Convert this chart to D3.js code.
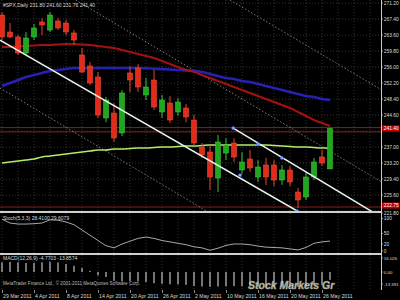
<!DOCTYPE html>
<html>
<head>
<meta charset="utf-8">
<script src="https://cdn.jsdelivr.net/npm/d3@7"></script>
<style>
  body { margin: 0; background: #000; }
  svg { display: block; font-family: "Liberation Sans", Arial, sans-serif; }
</style>
</head>
<body>
<svg id="chart" width="400" height="300"></svg>
<script>
/* chart values */
const chartTitle = "#SPX,Daily 231.80 241.60 231.76 241.40";
const stochTitle = "Stoch(5,3,3) 28.4100 29.6079";
const macdTitle = "MACD(12,26,9) -4.7703 -13.8574";
const copyright = "MetaTrader Finance Ltd., \u00a9 2001-2011 MetaQuotes Software Corp.";
const watermark = "Stock Markets Gr";

const opens  = [268.35, 264.31, 263.13, 259.33, 263.13, 266.69, 264.79, 266.93, 266.45, 264.08,
                258.85, 256.24, 253.63, 243.89, 245.08, 240.33, 254.58, 255.76, 249.35, 252.91,
                245.31, 247.45, 245.31, 246.26, 243.41, 237.00, 235.81, 229.64, 235.58, 237.95,
                231.54, 234.15, 229.88, 232.73, 232.73, 229.16, 231.54, 226.31, 225.13, 229.88,
                234.63, 231.80];
const highs  = [269.06, 266.45, 263.60, 264.30, 266.20, 267.60, 269.06, 267.60, 267.20, 264.80,
                260.50, 257.20, 254.80, 248.90, 247.40, 250.50, 256.20, 256.70, 253.40, 255.30,
                249.35, 249.10, 248.60, 247.20, 244.60, 237.95, 237.50, 239.85, 239.10, 239.10,
                235.80, 236.30, 233.90, 234.40, 233.90, 232.70, 232.50, 227.30, 231.10, 234.40,
                236.30, 241.60];
const lows   = [262.41, 262.89, 258.85, 258.85, 262.40, 263.60, 264.30, 264.79, 263.60, 261.23,
                254.60, 251.70, 243.90, 242.90, 238.20, 239.60, 250.00, 250.10, 248.16, 245.80,
                243.90, 242.70, 244.40, 242.90, 237.20, 234.40, 226.80, 226.30, 233.90, 233.40,
                230.60, 231.10, 228.70, 228.00, 227.70, 228.00, 227.70, 222.50, 224.40, 229.16,
                232.50, 231.76];
const closes = [263.13, 263.13, 259.33, 262.89, 265.26, 265.98, 268.35, 265.26, 264.31, 262.41,
                254.81, 252.20, 244.60, 248.16, 239.14, 249.83, 252.91, 251.25, 251.25, 246.50,
                248.16, 243.41, 247.69, 244.13, 237.95, 235.10, 229.88, 238.19, 237.48, 234.63,
                233.44, 232.01, 232.25, 229.88, 229.16, 231.54, 228.69, 224.41, 229.88, 233.44,
                233.20, 241.40];

const maRed   = [260.75, 260.75, 260.87, 260.99, 261.11, 261.23, 261.23, 261.34, 261.46, 261.46,
                 261.34, 261.23, 260.99, 260.75, 260.51, 260.04, 259.56, 259.09, 258.61, 258.14,
                 257.43, 256.71, 256.00, 255.29, 254.81, 254.10, 253.39, 252.68, 251.96, 251.25,
                 250.54, 249.83, 249.11, 248.40, 247.69, 246.98, 246.26, 245.31, 244.36, 243.41,
                 242.70, 241.99];
const maBlue  = [251.49, 252.20, 252.91, 253.63, 254.10, 254.58, 255.05, 255.29, 255.53, 255.76,
                 255.76, 255.76, 255.76, 255.76, 255.76, 255.76, 255.76, 255.76, 255.70, 255.60,
                 255.50, 255.40, 255.30, 255.20, 255.10, 254.81, 254.34, 253.86, 253.39, 253.15,
                 252.68, 252.44, 251.96, 251.49, 251.01, 250.54, 250.06, 249.59, 249.11, 248.88,
                 248.40, 248.16];
const maGreen = [233.20, 233.44, 233.68, 233.91, 234.15, 234.63, 234.86, 235.10, 235.34, 235.58,
                 235.81, 236.05, 236.29, 236.29, 236.53, 236.53, 236.64, 236.76, 236.76, 236.88,
                 237.00, 237.00, 237.12, 237.24, 237.24, 237.36, 237.48, 237.48, 237.48, 237.48,
                 237.48, 237.48, 237.48, 237.48, 237.36, 237.24, 237.12, 237.00, 237.00, 236.88,
                 236.76, 236.76];

const stochMain = [91, 80, 77, 77, 78, 80, 89, 88, 83, 75, 60, 45, 30, 15, 9, 20, 28, 36, 40, 36,
                   30, 26, 22, 18, 12, 9, 2, 8, 16, 20, 20, 18, 14, 11, 10, 9, 6, 3, 10, 22, 26, 28.41];
const macdHist = [8.5, 9.0, 8.6, 8.0, 8.2, 8.6, 9.0, 8.5, 7.0, 5.5, 3.5, 1.0, -3.0, -4.5, -8.0,
                  -8.5, -8.0, -8.5, -9.0, -10.0, -10.5, -11.0, -11.0, -11.5, -12.5, -13.0, -13.2,
                  -13.0, -12.8, -12.6, -12.8, -13.0, -13.2, -13.3, -13.3, -13.2, -13.2, -13.39,
                  -13.0, -12.0, -11.5, -7.0];

const priceTicks = [271.20, 267.40, 263.60, 259.80, 256.00, 252.20, 248.40, 244.60, 237.00,
                    233.20, 229.40, 225.60, 221.80];
const stochTicks = [100, 50, 20, 0];
const macdTicks = [16.026, 0, -13.391];
const dateIdx = [0, 4, 8, 12, 16, 20, 24, 28, 32, 36, 40];
const dateLabels = ["29 Mar 2011", "4 Apr 2011", "8 Apr 2011", "14 Apr 2011", "20 Apr 2011",
                    "26 Apr 2011", "2 May 2011", "10 May 2011", "16 May 2011", "20 May 2011",
                    "26 May 2011"];

// horizontal price levels and the current price box
const levelPrices = [241.60, 240.60, 222.75];
const lastPrice = 241.40;

// trend channel: [barIndex, price] pairs
const solidLines = [
  [[-0.25, 262.40], [36.9, 221.80]],
  [[28.9, 241.50], [46.3, 221.60]]
];
const dottedLines = [
  [[-0.25, 251.01], [25.6, 221.75]],
  [[9.2, 271.91], [47.4, 228.76]],
  [[28.5, 271.91], [47.4, 250.61]]
];
const anchorDots = [[28.9, 241.50], [32, 237.70], [35, 234.39], [29.75, 230.30], [36.9, 221.80]];

const svg = d3.select("#chart");
const axisX = 381;

svg.append("rect").attr("width", 400).attr("height", 300).attr("fill", "#000");

const x = d3.scaleLinear().domain([0, 41]).range([2, 330]);
const y = d3.scaleLinear().domain([221.8, 271.2]).range([211, 3]);
const yStoch = d3.scaleLinear().domain([0, 100]).range([251, 216]);
const yMacd = d3.scaleLinear().domain([-13.391, 16.026]).range([287, 254]);

const defs = svg.append("defs");
defs.append("clipPath").attr("id", "clipMain").append("rect")
  .attr("x", 0).attr("y", 0).attr("width", axisX).attr("height", 211);

// grid
const grid = svg.append("g").attr("stroke", "#4a4a4a").attr("stroke-dasharray", "1,2").attr("stroke-width", 0.7);
const panes = [[0, 211], [213, 253], [255, 289]];
d3.range(0, 47, 2).forEach(i => {
  panes.forEach(p => {
    grid.append("line").attr("x1", x(i)).attr("x2", x(i)).attr("y1", p[0]).attr("y2", p[1]);
  });
});
priceTicks.concat([240.80]).forEach(p => {
  grid.append("line").attr("x1", 0).attr("x2", axisX).attr("y1", y(p)).attr("y2", y(p));
});

const main = svg.append("g").attr("clip-path", "url(#clipMain)");

// price levels
levelPrices.forEach(p => {
  main.append("line").attr("x1", 0).attr("x2", axisX).attr("y1", y(p)).attr("y2", y(p))
    .attr("stroke", "#8a1f1f").attr("stroke-width", 1);
});

// dotted channel lines
dottedLines.forEach(l => {
  main.append("line")
    .attr("x1", x(l[0][0])).attr("y1", y(l[0][1]))
    .attr("x2", x(l[1][0])).attr("y2", y(l[1][1]))
    .attr("stroke", "#9a9a9a").attr("stroke-width", 0.8).attr("stroke-dasharray", "1.5,2");
});

// moving averages
const maLine = d3.line().x((d, i) => x(i)).y(d => y(d)).curve(d3.curveMonotoneX);
main.append("path").attr("d", maLine(maBlue)).attr("fill", "none")
  .attr("stroke", "#2a23c8").attr("stroke-width", 2.6).attr("stroke-opacity", 0.9);
main.append("path").attr("d", maLine(maRed)).attr("fill", "none")
  .attr("stroke", "#b01414").attr("stroke-width", 2.2).attr("stroke-opacity", 0.9);
main.append("path").attr("d", maLine(maGreen)).attr("fill", "none")
  .attr("stroke", "#b4ec6a").attr("stroke-width", 1.6);

// candles
const candles = main.selectAll("g.candle")
  .data(opens.map((o, i) => ({ i: i, o: o, h: highs[i], l: lows[i], c: closes[i] })))
  .enter().append("g").attr("class", "candle");

candles.append("line")
  .attr("x1", d => x(d.i)).attr("x2", d => x(d.i))
  .attr("y1", d => y(d.h)).attr("y2", d => y(d.l))
  .attr("stroke", d => d.c >= d.o ? "#3cbf3c" : "#e8442a").attr("stroke-width", 1);

candles.append("rect")
  .attr("x", d => x(d.i) - 2.5)
  .attr("width", 5)
  .attr("y", d => y(Math.max(d.o, d.c)))
  .attr("height", d => Math.max(1, Math.abs(y(d.o) - y(d.c))))
  .attr("fill", d => d.c >= d.o ? "#1ea81e" : "#e42a1a")
  .attr("stroke", d => d.c >= d.o ? "#4ccc4c" : "#f05a3a")
  .attr("stroke-width", 0.5);

// trend channel (solid)
solidLines.forEach(l => {
  main.append("line")
    .attr("x1", x(l[0][0])).attr("y1", y(l[0][1]))
    .attr("x2", x(l[1][0])).attr("y2", y(l[1][1]))
    .attr("stroke", "#e6f6ee").attr("stroke-width", 1.5);
});
main.selectAll("circle.anchor").data(anchorDots).enter().append("circle")
  .attr("cx", d => x(d[0])).attr("cy", d => y(d[1])).attr("r", 1.6)
  .attr("fill", "#7fb2ff").attr("stroke", "#3050e0").attr("stroke-width", 0.6);

// window separators
[[211, 213], [253, 255]].forEach(s => {
  svg.append("rect").attr("x", 0).attr("y", s[0]).attr("width", axisX).attr("height", s[1] - s[0])
    .attr("fill", "#cfcfcf");
});

// stochastic
const stochLine = d3.line().x((d, i) => x(i)).y(d => yStoch(d));
svg.append("path").attr("d", stochLine(stochMain)).attr("fill", "none")
  .attr("stroke", "#a8a8a8").attr("stroke-width", 1);

// macd histogram
svg.selectAll("line.macd").data(macdHist).enter().append("line")
  .attr("class", "macd")
  .attr("x1", (d, i) => x(i)).attr("x2", (d, i) => x(i))
  .attr("y1", yMacd(0)).attr("y2", d => yMacd(d))
  .attr("stroke", "#e8e8e8").attr("stroke-width", 1);

// right axis
svg.append("line").attr("x1", axisX + 0.5).attr("x2", axisX + 0.5).attr("y1", 0).attr("y2", 290)
  .attr("stroke", "#c8c8c8").attr("stroke-width", 1);

const rightText = (g, yy, txt, size) => {
  g.append("line").attr("x1", axisX).attr("x2", axisX + 2).attr("y1", yy).attr("y2", yy)
    .attr("stroke", "#c8c8c8").attr("stroke-width", 0.7);
  g.append("text").attr("x", axisX + 2.8).attr("y", yy).attr("dy", "0.35em")
    .attr("font-size", size).attr("fill", "#dcdcdc").text(txt);
};
const axisG = svg.append("g");
priceTicks.forEach(p => {
  // the lowest label sits just under the red level box
  const yy = p === 221.8 ? y(p) + 2 : y(p);
  rightText(axisG, Math.min(yy, 213.5), p.toFixed(2), 4.9);
});
stochTicks.forEach(v => rightText(axisG, v === 100 ? yStoch(v) + 2.5 : yStoch(v), v, 4.9));
macdTicks.forEach(v => rightText(axisG, yMacd(v) + (v > 1 ? 4 : v < -1 ? -3 : 0),
  v === 0 ? "0.00" : v.toFixed(3), 4.4));

// price boxes
[[lastPrice, y(lastPrice)], [levelPrices[2], y(levelPrices[2]) - 1.5]].forEach(b => {
  svg.append("rect").attr("x", axisX + 1).attr("y", b[1] - 3).attr("width", 17.5).attr("height", 6)
    .attr("fill", "#c40000");
  svg.append("text").attr("x", axisX + 2.8).attr("y", b[1]).attr("dy", "0.35em")
    .attr("font-size", 4.9).attr("fill", "#fff").text(b[0].toFixed(2));
});

// labels
svg.append("text").attr("x", 3).attr("y", 7).attr("font-size", 5).attr("fill", "#d8d8d8").text(chartTitle);
svg.append("text").attr("x", 3).attr("y", 220).attr("font-size", 5).attr("fill", "#d8d8d8").text(stochTitle);
svg.append("text").attr("x", 3).attr("y", 260).attr("font-size", 5).attr("fill", "#d8d8d8").text(macdTitle);
svg.append("text").attr("x", 3).attr("y", 285).attr("font-size", 4.6).attr("fill", "#bcbcbc").text(copyright);

svg.append("text").attr("x", 248).attr("y", 289)
  .attr("font-size", 10.5).attr("font-weight", "bold").attr("font-style", "italic")
  .attr("fill", "#e4e4d6").attr("fill-opacity", 0.85)
  .attr("stroke", "#9a9a80").attr("stroke-width", 0.4)
  .text(watermark);

// dates
const dateG = svg.append("g");
dateIdx.forEach((di, k) => {
  dateG.append("line").attr("x1", x(di) + 0.5).attr("x2", x(di) + 0.5).attr("y1", 290).attr("y2", 293)
    .attr("stroke", "#c8c8c8").attr("stroke-width", 0.7);
  dateG.append("text").attr("x", x(di) + 1).attr("y", 298).attr("font-size", 5.2)
    .attr("fill", "#d8d8d8").text(dateLabels[k]);
});
</script>
</body>
</html>
